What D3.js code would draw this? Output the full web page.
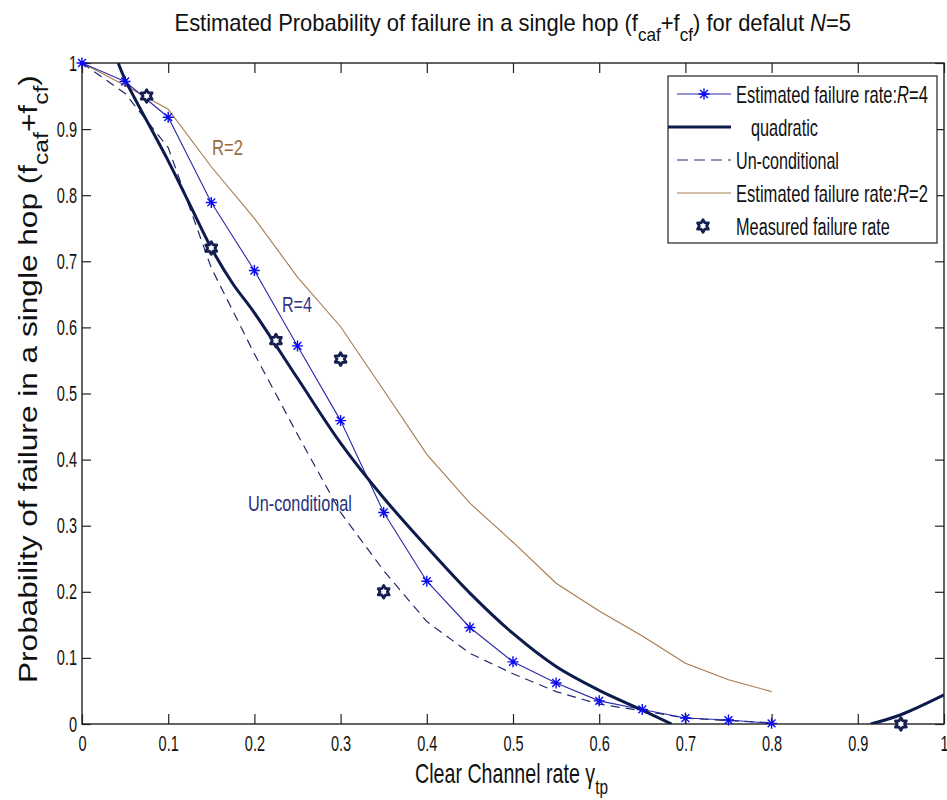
<!DOCTYPE html>
<html>
<head>
<meta charset="utf-8">
<script src="https://cdn.jsdelivr.net/npm/d3@7"></script>
<style>
  html, body { margin: 0; padding: 0; background: #fff; }
  svg { display: block; }
  text { font-family: "Liberation Sans", Arial, sans-serif; }
</style>
</head>
<body>
<svg id="chart" width="947" height="800"></svg>
<script>
// ---- data ----
const gammaGrid = [0, 0.05, 0.1, 0.15, 0.2, 0.25, 0.3, 0.35, 0.4, 0.45, 0.5, 0.55, 0.6, 0.65, 0.7, 0.75, 0.8];
const estimatedR4 = [1.0, 0.972, 0.918, 0.789, 0.686, 0.572, 0.459, 0.320, 0.216, 0.146, 0.094, 0.062, 0.035, 0.022, 0.009, 0.006, 0.001];
const estimatedR2 = [1.0, 0.966, 0.930, 0.843, 0.765, 0.676, 0.601, 0.505, 0.408, 0.334, 0.275, 0.213, 0.171, 0.133, 0.092, 0.067, 0.049];
const unconditional = [1.0, 0.954, 0.872, 0.690, 0.560, 0.438, 0.320, 0.232, 0.155, 0.107, 0.076, 0.049, 0.030, 0.020, 0.009, 0.005, 0.002];

// quadratic fit: two visible branches (the part below zero is outside the axes)
const quadGamma = [0.042, 0.05, 0.1, 0.125, 0.15, 0.175, 0.2, 0.25, 0.3, 0.35, 0.4, 0.45, 0.5, 0.55, 0.6, 0.65, 0.684, 0.8, 0.915, 0.95, 1.0];
const quadValues = [1.0, 0.975, 0.852, 0.786, 0.720, 0.666, 0.622, 0.523, 0.425, 0.342, 0.268, 0.198, 0.137, 0.087, 0.051, 0.021, 0.0, null, 0.0, 0.014, 0.044];

const measuredGamma = [0.075, 0.15, 0.225, 0.3, 0.35, 0.95];
const measuredValues = [0.95, 0.72, 0.58, 0.552, 0.20, 0.0];

const xTickValues = [0, 0.1, 0.2, 0.3, 0.4, 0.5, 0.6, 0.7, 0.8, 0.9, 1];
const xTickLabels = ["0", "0.1", "0.2", "0.3", "0.4", "0.5", "0.6", "0.7", "0.8", "0.9", "1"];
const yTickValues = [0, 0.1, 0.2, 0.3, 0.4, 0.5, 0.6, 0.7, 0.8, 0.9, 1];
const yTickLabels = ["0", "0.1", "0.2", "0.3", "0.4", "0.5", "0.6", "0.7", "0.8", "0.9", "1"];

const legendLabels = [
  [["Estimated failure rate:", ""], ["R", "it"], ["=4", ""]],
  [["quadratic", ""]],
  [["Un-conditional", ""]],
  [["Estimated failure rate:", ""], ["R", "it"], ["=2", ""]],
  [["Measured failure rate", ""]]
];

// ---- layout ----
const plot = { left: 82, right: 944, top: 63, bottom: 724 };
const colors = {
  r4Line: "#2a2aa8", r4Star: "#0a0af0",
  quad: "#0c1a4c", uncond: "#1f2b68", r2: "#a47a4c",
  meas: "#162050", axis: "#222222"
};

const svg = d3.select("#chart");
const x = d3.scaleLinear().domain([0, 1]).range([plot.left, plot.right]);
const y = d3.scaleLinear().domain([0, 1]).range([plot.bottom, plot.top]);

svg.append("defs").append("clipPath").attr("id", "plot-clip")
  .append("rect")
  .attr("x", plot.left).attr("y", plot.top)
  .attr("width", plot.right - plot.left).attr("height", plot.bottom - plot.top);

// text helper: builds a text from parts, then stretches it to a target width
function fitText(parent, parts, opts) {
  const g = parent.append("g");
  const t = g.append("text")
    .attr("font-size", opts.size)
    .attr("fill", opts.fill || "#111")
    .attr("x", 0).attr("y", 0);
  let shifted = 0;
  parts.forEach(([str, kind]) => {
    const ts = t.append("tspan").text(str);
    if (kind === "sub") {
      ts.attr("font-size", opts.size * 0.78).attr("dy", (0.42 * opts.size - shifted));
      shifted = 0.42 * opts.size;
    } else {
      if (shifted) ts.attr("dy", -shifted);
      shifted = 0;
      if (kind === "it") ts.attr("font-style", "italic");
    }
  });
  const w = t.node().getComputedTextLength();
  const k = opts.width / w;
  if (opts.rotate) {
    g.attr("transform", `translate(${opts.x},${opts.y}) rotate(-90) scale(${k},1)`);
  } else {
    const x0 = opts.anchor === "middle" ? opts.x - opts.width / 2 : opts.x;
    g.attr("transform", `translate(${x0},${opts.y}) scale(${k},1)`);
  }
  return g;
}

// ---- axes ----
const tickScaleX = 0.66;
const xAxis = d3.axisBottom(x).tickValues(xTickValues)
  .tickFormat((d, i) => xTickLabels[i])
  .tickSizeInner(-10).tickSizeOuter(0).tickPadding(11);
const gx = svg.append("g").attr("transform", `translate(0,${plot.bottom})`).call(xAxis);
gx.selectAll("text").attr("font-size", 22).attr("fill", "#111")
  .attr("transform", `scale(${tickScaleX},1)`);

const yAxis = d3.axisLeft(y).tickValues(yTickValues)
  .tickFormat((d, i) => yTickLabels[i])
  .tickSizeInner(-9).tickSizeOuter(0);
const gy = svg.append("g").attr("transform", `translate(${plot.left},0)`).call(yAxis);
gy.selectAll("text").attr("font-size", 22).attr("fill", "#111")
  .attr("x", -5 / tickScaleX)
  .attr("transform", `scale(${tickScaleX},1)`);

const gTop = svg.append("g").attr("transform", `translate(0,${plot.top})`)
  .call(d3.axisTop(x).tickValues(xTickValues).tickFormat("").tickSizeInner(-10).tickSizeOuter(0));
const gRight = svg.append("g").attr("transform", `translate(${plot.right},0)`)
  .call(d3.axisRight(y).tickValues(yTickValues).tickFormat("").tickSizeInner(-9).tickSizeOuter(0));

[gx, gy, gTop, gRight].forEach(g => {
  g.select(".domain").remove();
  g.selectAll("line").attr("stroke", colors.axis).attr("stroke-width", 1.2);
});

svg.append("rect")
  .attr("x", plot.left).attr("y", plot.top)
  .attr("width", plot.right - plot.left).attr("height", plot.bottom - plot.top)
  .attr("fill", "none").attr("stroke", colors.axis).attr("stroke-width", 1.4);

// ---- series ----
const lineGen = d3.line()
  .defined(d => d[1] !== null)
  .x(d => x(d[0])).y(d => y(d[1]));

const series = svg.append("g").attr("clip-path", "url(#plot-clip)");

const r2Pts = gammaGrid.map((g, i) => [g, estimatedR2[i]]);
const uncPts = gammaGrid.map((g, i) => [g, unconditional[i]]);
const r4Pts = gammaGrid.map((g, i) => [g, estimatedR4[i]]);
const quadPts = quadGamma.map((g, i) => [g, quadValues[i]]);

series.append("path").datum(r2Pts)
  .attr("d", lineGen).attr("fill", "none")
  .attr("stroke", colors.r2).attr("stroke-width", 1.1);

series.append("path").datum(uncPts)
  .attr("d", lineGen).attr("fill", "none")
  .attr("stroke", colors.uncond).attr("stroke-width", 1.2)
  .attr("stroke-dasharray", "9,6");

series.append("path").datum(r4Pts)
  .attr("d", lineGen).attr("fill", "none")
  .attr("stroke", colors.r4Line).attr("stroke-width", 1.1);

const quadLine = d3.line()
  .defined(d => d[1] !== null)
  .curve(d3.curveCatmullRom.alpha(0.5))
  .x(d => x(d[0])).y(d => y(d[1]));
series.append("path").datum(quadPts)
  .attr("d", quadLine).attr("fill", "none")
  .attr("stroke", colors.quad).attr("stroke-width", 3);

// asterisk marker
function asterisk(g, cx, cy) {
  const r = 5.5, d = 3.9;
  g.append("path")
    .attr("d", `M${cx - r},${cy}H${cx + r}M${cx},${cy - r}V${cy + r}` +
               `M${cx - d},${cy - d}L${cx + d},${cy + d}M${cx - d},${cy + d}L${cx + d},${cy - d}`)
    .attr("stroke", colors.r4Star).attr("stroke-width", 1.4).attr("fill", "none");
}
// hexagram marker
function hexagram(g, cx, cy) {
  const R = 6.3, pts = [];
  for (let k = 0; k < 12; k++) {
    const a = -Math.PI / 2 + k * Math.PI / 6;
    const rr = k % 2 === 0 ? R : R * 0.58;
    pts.push([cx + rr * Math.cos(a), cy + rr * Math.sin(a)]);
  }
  g.append("path")
    .attr("d", "M" + pts.map(p => p.join(",")).join("L") + "Z")
    .attr("fill", "#fff").attr("stroke", colors.meas).attr("stroke-width", 2.8)
    .attr("stroke-linejoin", "round");
}

const markers = svg.append("g");
r4Pts.forEach(p => asterisk(markers, x(p[0]), y(p[1])));
measuredGamma.forEach((g, i) => hexagram(markers, x(g), y(measuredValues[i])));

// ---- in-plot annotations ----
fitText(svg, [["R=2", ""]], { x: 212, y: 155, width: 31, size: 22, fill: "#9a6c3c" });
fitText(svg, [["R=4", ""]], { x: 282, y: 312, width: 30, size: 22, fill: "#33358a" });
fitText(svg, [["Un-conditional", ""]], { x: 248, y: 511, width: 104, size: 22, fill: "#2a3080" });

// ---- legend ----
const legend = svg.append("g");
legend.append("rect")
  .attr("x", 668).attr("y", 76).attr("width", 269).attr("height", 167)
  .attr("fill", "#fff").attr("stroke", "#222").attr("stroke-width", 1.2);

const rowY = [94, 127, 160, 193, 226];
const lx0 = 677, lx1 = 731, tx = 736;
// row 0: R=4
legend.append("line").attr("x1", lx0).attr("x2", lx1).attr("y1", rowY[0]).attr("y2", rowY[0])
  .attr("stroke", colors.r4Line).attr("stroke-width", 1.1);
asterisk(legend, (lx0 + lx1) / 2, rowY[0]);
// row 1: quadratic
legend.append("line").attr("x1", lx0 - 9).attr("x2", lx1).attr("y1", rowY[1]).attr("y2", rowY[1])
  .attr("stroke", colors.quad).attr("stroke-width", 3);
// row 2: unconditional
legend.append("line").attr("x1", lx0).attr("x2", lx1).attr("y1", rowY[2]).attr("y2", rowY[2])
  .attr("stroke", colors.uncond).attr("stroke-width", 1.2).attr("stroke-dasharray", "11,6");
// row 3: R=2
legend.append("line").attr("x1", lx0).attr("x2", lx1).attr("y1", rowY[3]).attr("y2", rowY[3])
  .attr("stroke", colors.r2).attr("stroke-width", 1.1);
// row 4: measured
hexagram(legend, 703, rowY[4]);

const legendWidths = [192, 67, 103, 192, 154];
const legendX = [tx, tx + 15, tx, tx, tx];
legendLabels.forEach((parts, i) => {
  fitText(legend, parts, { x: legendX[i], y: rowY[i] + 8.5, width: legendWidths[i], size: 23, fill: "#111" });
});

// ---- titles ----
fitText(svg, [
  ["Estimated Probability of failure in a single hop (f", ""], ["caf", "sub"],
  ["+f", ""], ["cf", "sub"], [") for defalut ", ""], ["N", "it"], ["=5", ""]
], { x: 513, y: 31, width: 677, size: 23, anchor: "middle", fill: "#111" });

fitText(svg, [["Clear Channel rate \u03b3", ""], ["tp", "sub"]],
  { x: 415, y: 783, width: 193, size: 27, fill: "#111" });

fitText(svg, [
  ["Probability of failure in a single hop (f", ""], ["caf", "sub"],
  ["+f", ""], ["cf", "sub"], [")", ""]
], { x: 37, y: 683, width: 608, size: 25, rotate: true, fill: "#111" });
</script>
</body>
</html>
